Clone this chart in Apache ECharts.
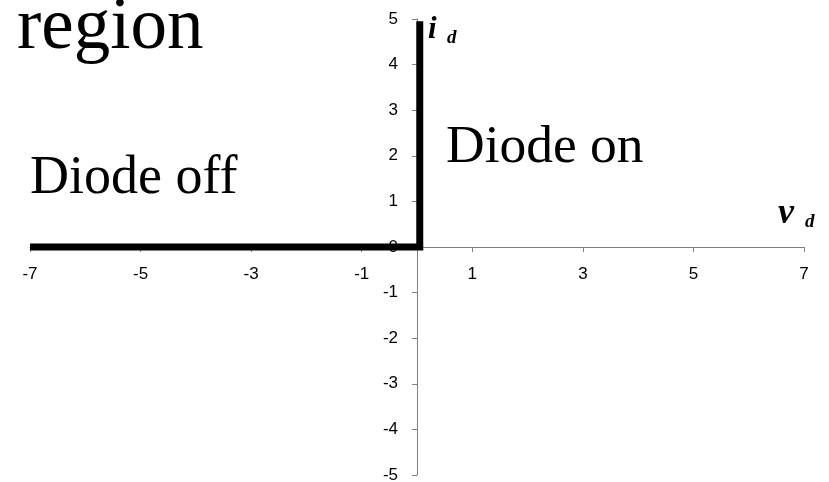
<!DOCTYPE html>
<html>
<head>
<meta charset="utf-8">
<script src="https://cdn.jsdelivr.net/npm/echarts@6/dist/echarts.min.js"></script>
<style>
  html, body { margin: 0; padding: 0; background: #fff; }
  #chart { width: 829px; height: 482px; }
</style>
</head>
<body>
<div id="chart"></div>
<script>
// Ideal diode i-v characteristic: zero current for negative voltage, vertical rise at 0 V
const voltage = [-7, 0.05, 0.05];
const current = [0, 0, 4.95];

const xTicks = { min: -7, max: 7, interval: 2 };
const yTicks = { min: -5, max: 5, interval: 1 };

const serif = '"Liberation Serif", "Times New Roman", serif';
const sans = '"Liberation Sans", Arial, sans-serif';

const axisGrey = '#808080';
const grid = { left: 30, right: 25, top: 19, bottom: 7 };
const W = 829, H = 482;

// Place the axes through the origin (cross at 0,0)
const plotW = W - grid.left - grid.right;
const plotH = H - grid.top - grid.bottom;
const yAxisShift = -plotW * (0 - xTicks.min) / (xTicks.max - xTicks.min);
const xAxisShift = -plotH * (0 - yTicks.min) / (yTicks.max - yTicks.min);

const chart = echarts.init(document.getElementById('chart'));

chart.setOption({
  animation: false,
  grid: Object.assign({ containLabel: false, outerBoundsMode: 'none' }, grid),
  xAxis: {
    type: 'value', position: 'bottom', offset: xAxisShift,
    min: xTicks.min, max: xTicks.max, interval: xTicks.interval,
    splitLine: { show: false },
    axisLine: { onZero: false, lineStyle: { color: axisGrey, width: 1 } },
    axisTick: { show: true, length: 5, lineStyle: { color: axisGrey } },
    axisLabel: { color: '#000', fontFamily: sans, fontSize: 17, margin: 19,
                 showMinLabel: true, showMaxLabel: true, hideOverlap: false }
  },
  yAxis: {
    type: 'value', position: 'left', offset: yAxisShift,
    min: yTicks.min, max: yTicks.max, interval: yTicks.interval,
    splitLine: { show: false },
    axisLine: { onZero: false, lineStyle: { color: axisGrey, width: 1 } },
    axisTick: { show: true, length: 5, lineStyle: { color: axisGrey } },
    axisLabel: { color: '#000', fontFamily: sans, fontSize: 17, margin: 19,
                 showMinLabel: true, showMaxLabel: true, hideOverlap: false }
  },
  series: [{
    type: 'line',
    data: voltage.map((v, k) => [v, current[k]]),
    symbol: 'none',
    lineStyle: { color: '#000', width: 7, cap: 'butt', join: 'miter' },
    z: 3
  }],
  graphic: [
    { type: 'text', left: 17, top: -8, z: 10,
      style: { text: 'region', font: '73px ' + serif, fill: '#000' } },
    { type: 'text', x: 30, y: 179, z: 10,
      style: { text: 'Diode off', font: '54px ' + serif, fill: '#000', verticalAlign: 'middle' } },
    { type: 'text', x: 446, y: 148, z: 10,
      style: { text: 'Diode on', font: '53.5px ' + serif, fill: '#000', verticalAlign: 'middle' } },
    { type: 'text', x: 428, y: 30, z: 10,
      style: { text: 'i', font: 'italic bold 31px ' + serif, fill: '#000', verticalAlign: 'middle' } },
    { type: 'text', x: 447, y: 38, z: 10,
      style: { text: 'd', font: 'italic bold 19px ' + serif, fill: '#000', verticalAlign: 'middle' } },
    { type: 'text', x: 778, y: 214, z: 10,
      style: { text: 'v', font: 'italic bold 36px ' + serif, fill: '#000', verticalAlign: 'middle' } },
    { type: 'text', x: 805, y: 222, z: 10,
      style: { text: 'd', font: 'italic bold 19px ' + serif, fill: '#000', verticalAlign: 'middle' } }
  ]
});
</script>
</body>
</html>
